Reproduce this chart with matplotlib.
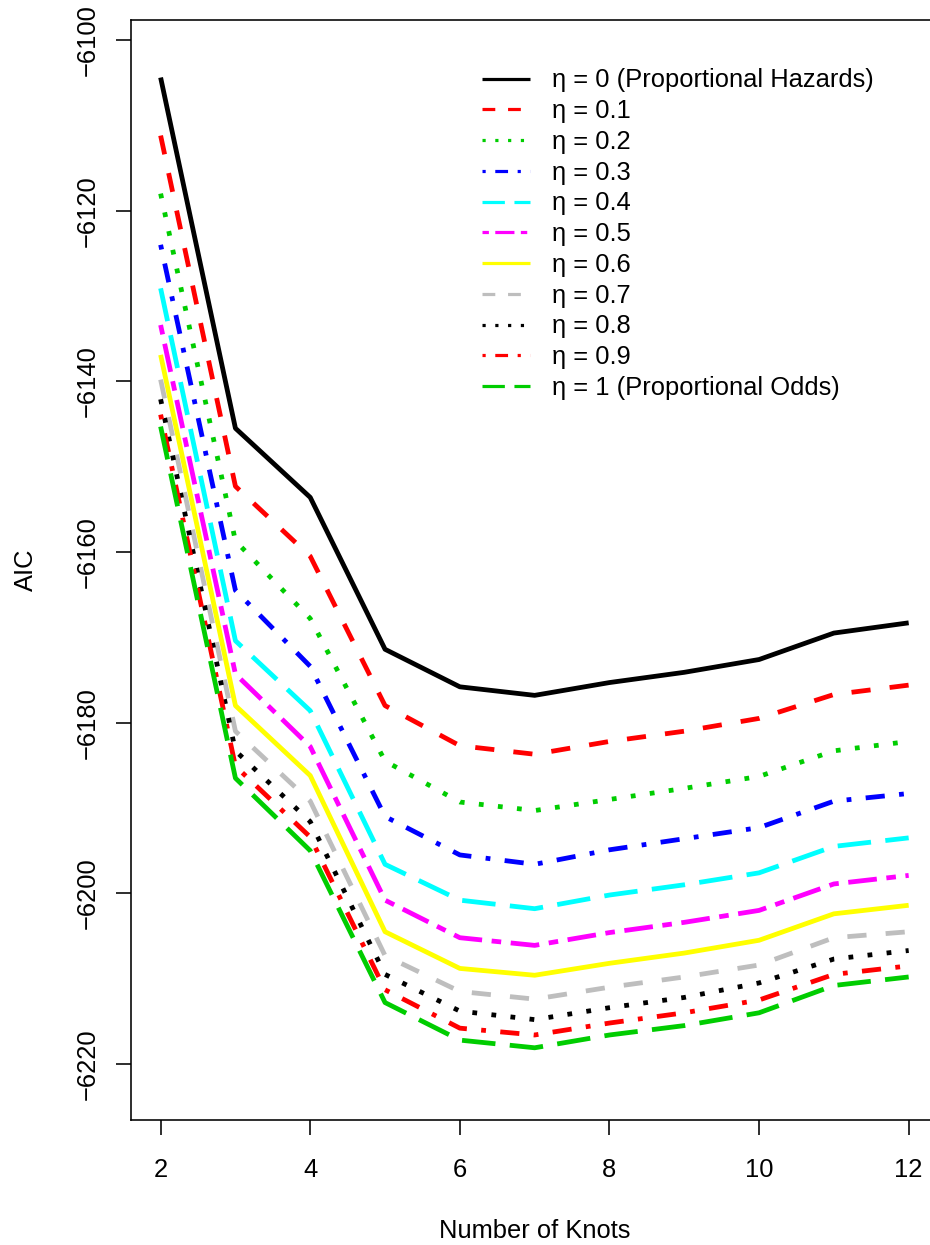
import matplotlib
matplotlib.use('Agg')
import matplotlib.pyplot as plt
from matplotlib.lines import Line2D

plt.rcParams['font.family'] = ['Liberation Sans', 'DejaVu Sans']

# AIC by number of knots, one series per eta
knots = [2, 3, 4, 5, 6, 7, 8, 9, 10, 11, 12]

aic_eta00 = [-6104.4, -6145.5, -6153.6, -6171.4, -6175.8, -6176.8, -6175.3, -6174.1, -6172.6, -6169.5, -6168.3]
aic_eta01 = [-6111.2, -6152.3, -6160.5, -6178.0, -6182.7, -6183.7, -6182.2, -6181.0, -6179.5, -6176.7, -6175.6]
aic_eta02 = [-6118.0, -6158.7, -6167.8, -6184.5, -6189.3, -6190.3, -6189.0, -6187.7, -6186.3, -6183.3, -6182.2]
aic_eta03 = [-6124.0, -6164.5, -6173.4, -6191.0, -6195.5, -6196.6, -6194.9, -6193.6, -6192.3, -6189.2, -6188.3]
aic_eta04 = [-6129.1, -6170.4, -6178.6, -6196.6, -6200.8, -6201.8, -6200.2, -6199.0, -6197.6, -6194.5, -6193.5]
aic_eta05 = [-6133.4, -6174.3, -6182.8, -6200.8, -6205.2, -6206.1, -6204.6, -6203.4, -6202.0, -6198.9, -6197.9]
aic_eta06 = [-6136.9, -6178.0, -6186.2, -6204.5, -6208.8, -6209.6, -6208.2, -6207.0, -6205.5, -6202.4, -6201.4]
aic_eta07 = [-6139.8, -6181.0, -6189.2, -6207.3, -6211.5, -6212.4, -6211.0, -6209.8, -6208.4, -6205.2, -6204.5]
aic_eta08 = [-6142.1, -6183.3, -6191.6, -6209.5, -6213.8, -6214.8, -6213.4, -6212.2, -6210.5, -6207.7, -6206.7]
aic_eta09 = [-6143.9, -6185.1, -6193.4, -6211.3, -6215.8, -6216.6, -6215.2, -6214.0, -6212.5, -6209.5, -6208.5]
aic_eta10 = [-6145.3, -6186.5, -6195.0, -6212.8, -6217.2, -6218.1, -6216.6, -6215.5, -6214.0, -6210.8, -6209.8]

series = [aic_eta00, aic_eta01, aic_eta02, aic_eta03, aic_eta04, aic_eta05,
          aic_eta06, aic_eta07, aic_eta08, aic_eta09, aic_eta10]
labels = ['\u03b7 = 0 (Proportional Hazards)', '\u03b7 = 0.1', '\u03b7 = 0.2', '\u03b7 = 0.3',
          '\u03b7 = 0.4', '\u03b7 = 0.5', '\u03b7 = 0.6', '\u03b7 = 0.7', '\u03b7 = 0.8',
          '\u03b7 = 0.9', '\u03b7 = 1 (Proportional Odds)']

# R palette colours and lty 1..6 (recycled)
colors = ['#000000', '#FF0000', '#00CD00', '#0000FF', '#00FFFF', '#FF00FF',
          '#FFFF00', '#BEBEBE', '#000000', '#FF0000', '#00CD00']
r_lty = [(0, ()), (0, (4, 4)), (0, (1, 3)), (0, (1, 3, 4, 3)), (0, (7, 3)), (0, (2, 2, 6, 2))]
styles = [r_lty[i % 6] for i in range(len(series))]

dpi = 144
k = 1.065          # device scale (R lwd / pointsize -> pt)
fs = 12 * k
lwd = 0.75 * k

fig = plt.figure(figsize=(930 / dpi, 1245 / dpi), dpi=dpi)
ax = fig.add_axes([130.7 / 930, 125 / 1245, 807.9 / 930, 1100 / 1245])

for vals, col, ls in zip(series, colors, styles):
    ax.plot(knots, vals, color=col, linestyle=ls, lw=3 * lwd,
            dash_capstyle='butt', solid_capstyle='round',
            dash_joinstyle='round', solid_joinstyle='round')

ax.set_xlim(1.6, 12.4)
ax.set_ylim(-6226.5625, -6097.656)
ax.set_xticks([2, 4, 6, 8, 10, 12])
ax.set_yticks([-6220, -6200, -6180, -6160, -6140, -6120, -6100])

for sp in ax.spines.values():
    sp.set_linewidth(lwd)
ax.tick_params(direction='out', length=7.7, width=lwd, labelsize=fs)
ax.tick_params(axis='x', pad=11.3)
ax.tick_params(axis='y', pad=7.9, labelrotation=90)
plt.setp(ax.get_yticklabels(), va='center')

ax.set_xlabel('Number of Knots', fontsize=fs)
ax.set_ylabel('AIC', fontsize=fs)
ax.xaxis.set_label_coords(0.5, -0.0904)
ax.yaxis.set_label_coords(-0.1145, 0.5)

handles = [Line2D([], [], color=c, linestyle=s, lw=2 * lwd, dash_capstyle='butt',
                  solid_capstyle='round') for c, s in zip(colors, styles)]
ax.legend(handles, labels, loc='upper left', bbox_to_anchor=(482 / 930, 1 - 68.5 / 1245),
          bbox_transform=fig.transFigure, frameon=False, fontsize=fs,
          handlelength=1.875, handletextpad=0.85, labelspacing=0.264,
          borderpad=0, borderaxespad=0)

fig.savefig('out.png', dpi=dpi)
